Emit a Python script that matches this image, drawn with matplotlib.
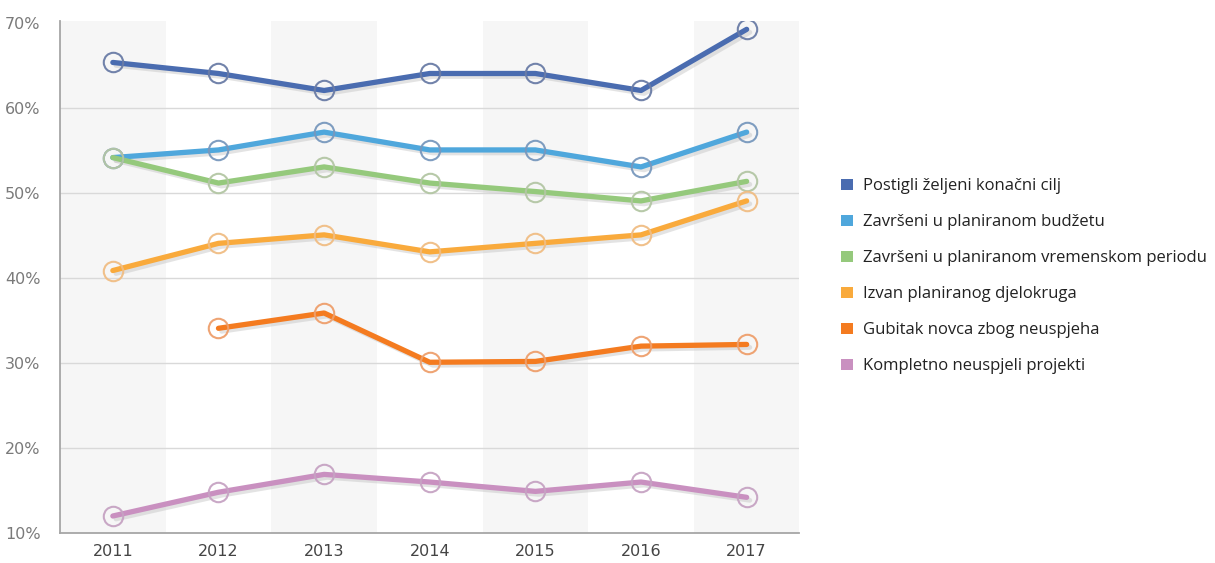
import matplotlib.pyplot as plt
from matplotlib.patches import Patch
import numpy as np

years = [2011, 2012, 2013, 2014, 2015, 2016, 2017]

labels = ['Postigli željeni konačni cilj',
          'Završeni u planiranom budžetu',
          'Završeni u planiranom vremenskom periodu',
          'Izvan planiranog djelokruga',
          'Gubitak novca zbog neuspjeha',
          'Kompletno neuspjeli projekti']

postigli = [65.4, 64.1, 62.1, 64.1, 64.1, 62.1, 69.3]
budzet = [54.2, 55.1, 57.2, 55.1, 55.1, 53.1, 57.2]
vrijeme = [54.2, 51.2, 53.1, 51.2, 50.2, 49.1, 51.4]
djelokrug = [40.9, 44.1, 45.1, 43.1, 44.1, 45.1, 49.1]
gubitak = [np.nan, 34.1, 35.9, 30.1, 30.2, 32.0, 32.2]
neuspjeli = [12.0, 14.8, 16.9, 16.0, 14.9, 16.0, 14.2]

series = [postigli, budzet, vrijeme, djelokrug, gubitak, neuspjeli]
colors = ['#4a6cb0', '#4fa7dc', '#95c97c', '#f9aa3c', '#f47b20', '#c990c0']
edges = ['#6a7ca6', '#7898bd', '#b3c6a4', '#f0bd84', '#ee9f6c', '#c6a3c3']

fig = plt.figure(figsize=(12.15, 5.63), dpi=100)
ax = fig.add_axes([0.0494, 0.0533, 0.6086, 0.9097])

# alternating shaded columns
for y in years[::2]:
    ax.axvspan(y - 0.5, y + 0.5, color='#f6f6f6', zorder=0, lw=0)

for v in [20, 30, 40, 50, 60]:
    ax.axhline(v, color='#d9d9d9', lw=1, zorder=1)

for vals, c, ec in zip(series, colors, edges):
    vals = np.array(vals)
    # soft shadow under the line
    ax.plot(np.array(years) + 0.03, vals - 0.35, color='#c8c8c8', lw=3.5,
            alpha=0.5, zorder=2, solid_capstyle='round')
    ax.plot(years, vals, color=c, lw=3.8, zorder=3, solid_capstyle='round')
    ax.plot(years, vals, ls='none', marker='o', ms=14, mfc='none',
            mec=ec, mew=1.5, alpha=0.95, zorder=4)

ax.set_xlim(2010.5, 2017.5)
ax.set_ylim(10, 70.3)
ax.set_xticks(years)
ax.set_yticks([10, 20, 30, 40, 50, 60, 70])
ax.set_yticklabels(['%d%%' % v for v in [10, 20, 30, 40, 50, 60, 70]])

for s in ['top', 'right']:
    ax.spines[s].set_visible(False)
for s in ['left', 'bottom']:
    ax.spines[s].set_color('#a6a6a6')
    ax.spines[s].set_linewidth(1.3)
ax.tick_params(axis='both', length=0, labelsize=11.5, colors='#555555',
               labelcolor='#7a7a7a', pad=8)
ax.tick_params(axis='x', labelcolor='#444444')
ax.tick_params(axis='y', pad=14)

handles = [Patch(facecolor=c, edgecolor='none') for c in colors]
fig.legend(handles, labels, loc='upper left', bbox_to_anchor=(0.68, 0.71),
           frameon=False, handlelength=0.7, handleheight=0.7,
           handletextpad=0.6, labelspacing=1.2, labelcolor='#222222',
           prop={'family': 'Open Sans', 'size': 12})

fig.savefig('out.png', dpi=100)
